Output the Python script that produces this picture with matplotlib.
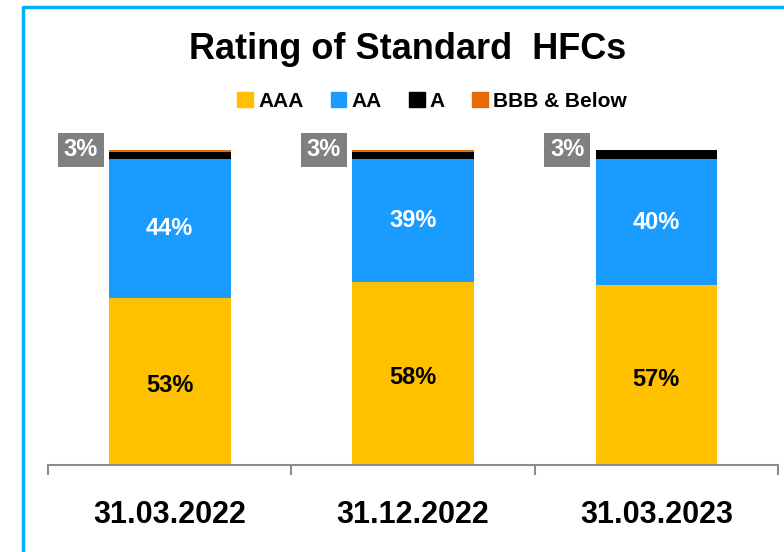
import numpy as np
import matplotlib.pyplot as plt
from matplotlib.lines import Line2D
from matplotlib.patches import Patch

plt.rcParams['font.family'] = ['Liberation Sans', 'DejaVu Sans']

# data
dates = ['31.03.2022', '31.12.2022', '31.03.2023']
aaa = [53, 58, 57]
aa = [44, 39, 40]
a = [2.5, 2.5, 3.0]
bbb = [0.5, 0.5, 0.0]
low_labels = ['3%', '3%', '3%']

c_aaa = '#FFC000'
c_aa = '#1A9BFF'
c_a = '#000000'
c_bbb = '#E36C09'

fig = plt.figure(figsize=(7.84, 5.52), dpi=100)
ax = fig.add_axes([48 / 784, 87 / 552, 730 / 784, 315 / 552])

x = np.arange(len(dates))
w = 0.5
aaa_arr = np.array(aaa)
aa_arr = np.array(aa)
a_arr = np.array(a)
bbb_arr = np.array(bbb)

ax.bar(x, aaa_arr, w, color=c_aaa)
ax.bar(x, aa_arr, w, bottom=aaa_arr, color=c_aa)
ax.bar(x, a_arr, w, bottom=aaa_arr + aa_arr, color=c_a)
ax.bar(x, bbb_arr, w, bottom=aaa_arr + aa_arr + a_arr, color=c_bbb)

for i in range(len(dates)):
    ax.text(x[i], aaa[i] / 2 - 1.3, f'{aaa[i]}%', ha='center', va='center',
            fontsize=17, fontweight='bold', color='black')
    ax.text(x[i], aaa[i] + aa[i] / 2, f'{aa[i]}%', ha='center', va='center',
            fontsize=17, fontweight='bold', color='white')
    top = aaa[i] + aa[i] + a[i] + bbb[i]
    ax.annotate(low_labels[i], xy=(x[i] - w / 2, top), xytext=(-8, 0),
                textcoords='offset points', ha='right', va='center',
                fontsize=17, fontweight='bold', color='white',
                bbox=dict(boxstyle='square,pad=0.25', fc='#808080', ec='none'),
                annotation_clip=False)

ax.set_xlim(-0.5, 2.5)
ax.set_ylim(0, 100)
ax.set_yticks([])
for s in ['top', 'right', 'left']:
    ax.spines[s].set_visible(False)
ax.spines['bottom'].set_color('#8C8C8C')
ax.spines['bottom'].set_linewidth(1.5)

ax.set_xticks(x)
ax.set_xticklabels(dates, fontsize=22, fontweight='bold')
ax.tick_params(axis='x', which='major', length=0, pad=25)
ax.set_xticks([-0.5, 0.5, 1.5, 2.5], minor=True)
ax.tick_params(axis='x', which='minor', length=7, width=1.5, color='#8C8C8C', direction='out')

fig.text(0.52, 0.91, 'Rating of Standard  HFCs', ha='center', va='center',
         fontsize=26, fontweight='bold')

handles = [Patch(color=c_aaa), Patch(color=c_aa), Patch(color=c_a), Patch(color=c_bbb)]
fig.legend(handles, ['AAA', 'AA', 'A', 'BBB & Below'], loc='center',
           bbox_to_anchor=(0.551, 0.817), ncol=4, frameon=False,
           prop=dict(size=15, weight='bold'), handlelength=0.75, handleheight=0.75,
           handletextpad=0.25, columnspacing=1.3)

# cyan frame (left and top edges visible)
fig.add_artist(Line2D([23 / 784, 23 / 784, 1.0], [0.0, 1 - 7 / 552, 1 - 7 / 552],
                      transform=fig.transFigure, color='#00B0F0', lw=2.5))

fig.savefig('out.png', dpi=100)
